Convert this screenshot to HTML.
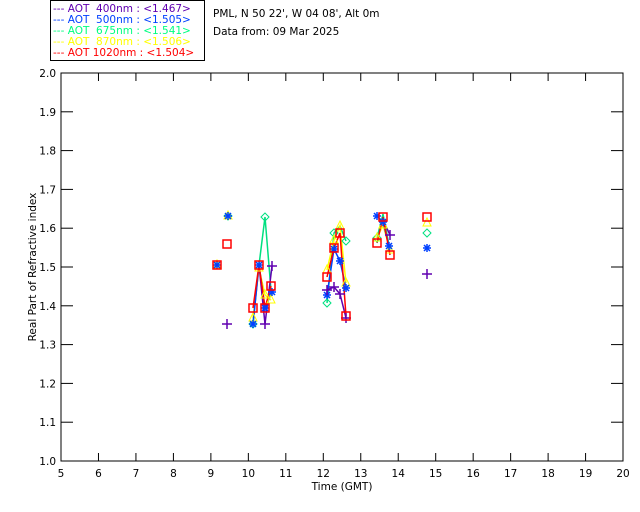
<!DOCTYPE html>
<html><head><meta charset="utf-8"><style>
html,body{margin:0;padding:0;background:#fff}
svg{display:block;font-family:"DejaVu Sans","Liberation Sans",sans-serif}
</style></head><body>
<svg id="s" width="640" height="512" viewBox="0 0 640 512" xmlns="http://www.w3.org/2000/svg">
<rect width="640" height="512" fill="#fff"/>
<rect x="50.5" y="0.5" width="154" height="60" fill="none" stroke="#000"/>
<g font-size="10.5">
<text x="53" y="12" fill="#6000b0" xml:space="preserve">--- AOT  400nm : &lt;1.467&gt;</text>
<text x="53" y="23" fill="#0040ff" xml:space="preserve">--- AOT  500nm : &lt;1.505&gt;</text>
<text x="53" y="34" fill="#00ff80" xml:space="preserve">--- AOT  675nm : &lt;1.541&gt;</text>
<text x="53" y="45" fill="#ffff00" xml:space="preserve">--- AOT  870nm : &lt;1.506&gt;</text>
<text x="53" y="56" fill="#ff0000" xml:space="preserve">--- AOT 1020nm : &lt;1.504&gt;</text>
<text x="213" y="17" fill="#000">PML, N 50 22', W 04 08', Alt 0m</text>
<text x="213" y="35" fill="#000">Data from: 09 Mar 2025</text>
</g>
<rect x="61" y="73" width="562" height="388" fill="none" stroke="#000"/>
<g id="ax" stroke="#000" fill="none"></g>
<g id="lb" font-size="10.5" fill="#000"></g>
<text x="342" y="490" font-size="10.5" text-anchor="middle">Time (GMT)</text>
<text transform="translate(36,267) rotate(-90)" font-size="10.5" text-anchor="middle">Real Part of Refractive index</text>
<g id="d" fill="none" stroke-width="1.5"></g>
</svg>
<script>
var ns="http://www.w3.org/2000/svg";
function el(p,t,a,txt){var e=document.createElementNS(ns,t);for(var k in a)e.setAttribute(k,a[k]);if(txt!==undefined)e.textContent=txt;document.getElementById(p).appendChild(e);return e;}
for(var i=5;i<=20;i++){var x=61+(i-5)*37.47;
 if(i>5&&i<20){el("ax","line",{x1:x,y1:461,x2:x,y2:453});el("ax","line",{x1:x,y1:73,x2:x,y2:81});}
 el("lb","text",{x:x,y:477,"text-anchor":"middle"},i);}
for(var j=0;j<=10;j++){var y=461-j*38.8;
 if(j>0&&j<10){el("ax","line",{x1:61,y1:y,x2:73,y2:y});el("ax","line",{x1:623,y1:y,x2:611,y2:y});}
 el("lb","text",{x:56,y:y+4,"text-anchor":"end"},(1+j/10).toFixed(1));}
var C={p:"#6000b0",b:"#0040ff",g:"#00e080",y:"#ffff00",r:"#ff0000"};
function line(c,pts){el("d","polyline",{points:pts.map(function(p){return p.join(",")}).join(" "),stroke:c});}
line(C.g,[[253,324],[259,265],[265,217],[271,290]]);
line(C.g,[[327,303],[334,233],[340,226],[346,241]]);
line(C.g,[[377,238],[383,214],[390,250]]);
line(C.y,[[253,318],[259,268],[265,295],[271,300]]);
line(C.y,[[327,270],[334,240],[340,226],[346,283]]);
line(C.y,[[377,238],[383,225],[390,250]]);
line(C.b,[[253,324],[259,265],[265,308],[272,292]]);
line(C.b,[[327,295],[334,249],[340,261],[346,288]]);
line(C.b,[[377,216],[383,222],[389,246]]);
line(C.p,[[259,265],[265,324],[272,266]]);
line(C.p,[[327,290],[334,287],[340,294],[346,318]]);
line(C.p,[[383,220],[390,235]]);
line(C.r,[[253,308],[259,265],[265,308],[271,286]]);
line(C.r,[[327,277],[334,248],[340,233],[346,316]]);
line(C.r,[[377,243],[383,217],[390,255]]);
function sq(x,y){el("d","rect",{x:x-4,y:y-4,width:8,height:8,stroke:C.r});}
function di(x,y){el("d","polygon",{points:(x)+","+(y-4)+" "+(x+4)+","+y+" "+x+","+(y+4)+" "+(x-4)+","+y,stroke:C.g,"stroke-width":1});}
function tr(x,y){el("d","polygon",{points:x+","+(y-5)+" "+(x+4)+","+(y+3)+" "+(x-4)+","+(y+3),stroke:C.y,"stroke-width":1});}
function st(x,y){var a=[[-4,0,4,0],[0,-4,0,4],[-3,-3,3,3],[-3,3,3,-3]];a.forEach(function(l){el("d","line",{x1:x+l[0],y1:y+l[1],x2:x+l[2],y2:y+l[3],stroke:C.b})});}
function pl(x,y){el("d","line",{x1:x-5,y1:y,x2:x+5,y2:y,stroke:C.p});el("d","line",{x1:x,y1:y-5,x2:x,y2:y+5,stroke:C.p});}
[[228,216],[265,217],[253,324],[327,303],[334,233],[346,241],[377,238],[427,233]].forEach(function(p){di(p[0],p[1])});
[[228,216],[217,265],[253,318],[259,268],[265,295],[271,300],[327,270],[334,240],[340,226],[346,283],[377,238],[383,225],[390,250],[427,223]].forEach(function(p){tr(p[0],p[1])});
[[228,216],[217,265],[259,265],[253,324],[265,308],[272,292],[327,295],[334,249],[340,261],[346,288],[377,216],[383,222],[389,246],[427,248]].forEach(function(p){st(p[0],p[1])});
[[227,324],[265,324],[272,266],[327,290],[334,287],[340,294],[346,318],[390,235],[427,274]].forEach(function(p){pl(p[0],p[1])});
[[217,265],[227,244],[253,308],[259,265],[265,308],[271,286],[327,277],[334,248],[340,233],[346,316],[377,243],[383,217],[390,255],[427,217]].forEach(function(p){sq(p[0],p[1])});
</script>
</body></html>
